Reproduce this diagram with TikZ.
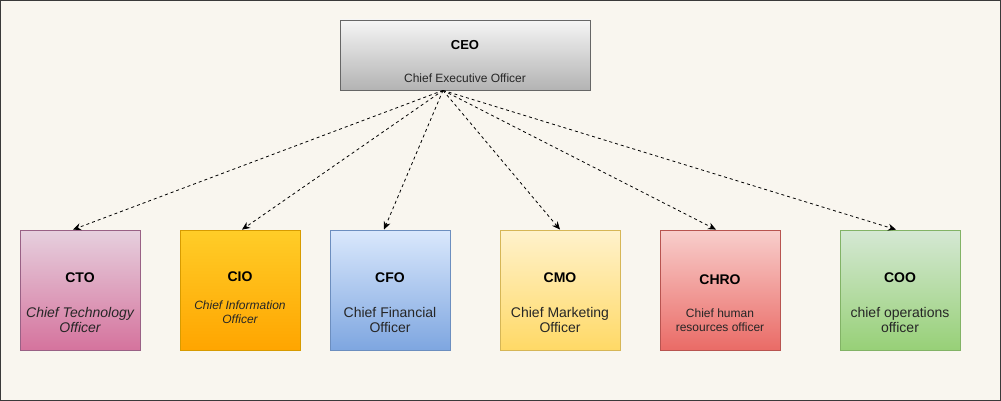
\documentclass[tikz,border=0pt]{standalone}
\usepackage{fontspec}
\setmainfont{Liberation Sans}
\usetikzlibrary{arrows.meta}

\definecolor{paper}{HTML}{F9F6EF}
\definecolor{frame}{HTML}{3A3A3A}
\definecolor{ceotop}{HTML}{F5F5F5}
\definecolor{ceobot}{HTML}{B3B3B3}
\definecolor{ceoline}{HTML}{666666}
\definecolor{ctotop}{HTML}{E6D0DE}
\definecolor{ctobot}{HTML}{D5739D}
\definecolor{ctoline}{HTML}{996185}
\definecolor{ciotop}{HTML}{FFCD28}
\definecolor{ciobot}{HTML}{FFA500}
\definecolor{cioline}{HTML}{D79B00}
\definecolor{cfotop}{HTML}{DAE8FC}
\definecolor{cfobot}{HTML}{7EA6E0}
\definecolor{cfoline}{HTML}{6C8EBF}
\definecolor{cmotop}{HTML}{FFF2CC}
\definecolor{cmobot}{HTML}{FFD966}
\definecolor{cmoline}{HTML}{D6B656}
\definecolor{chrotop}{HTML}{F8CECC}
\definecolor{chrobot}{HTML}{EA6B66}
\definecolor{chroline}{HTML}{B85450}
\definecolor{cootop}{HTML}{D5E8D4}
\definecolor{coobot}{HTML}{97D077}
\definecolor{cooline}{HTML}{82B366}

\begin{document}
\begin{tikzpicture}[x=1pt, y=-1pt,
  officer/.style = {shape=rectangle, draw, line width=0.8pt,
    minimum width=120pt, minimum height=120pt, inner sep=0pt},
  title/.style = {inner sep=0pt, font=\fontsize{14}{16}\selectfont\bfseries},
  sub/.style = {inner sep=0pt, align=center, text=black!85,
    font=\fontsize{14}{15.5}\selectfont},
  smallsub/.style = {sub, font=\fontsize{12}{13.5}\selectfont},
  link/.style = {draw, dashed, line width=0.8pt,
    -{Stealth[length=8pt, width=7pt]}}]
  \useasboundingbox (0,0) rectangle (1001,401);
  \fill[paper] (0,0) rectangle (1001,401);
  \draw[frame, line width=1.2pt] (0.6,0.6) rectangle (1000.4,400.4);

  % top box
  \node[officer, minimum width=250pt, minimum height=70pt, draw=ceoline,
    top color=ceotop, bottom color=ceobot] (ceo) at (465,55) {};
  \node[title, font=\fontsize{13}{15}\selectfont\bfseries] (ceo-t) at (465,45) {CEO};
  \node[smallsub] (ceo-s) at (465,78) {Chief Executive Officer};
  \coordinate (ceo-out) at ([xshift=-22pt]ceo.south);

  % the six officers
  \node[officer, draw=ctoline, top color=ctotop, bottom color=ctobot] (cto) at (80,290) {};
  \node[title] (cto-t) at (80,278) {CTO};
  \node[sub, font=\fontsize{14}{15.5}\selectfont\itshape] (cto-s) at (80,320) {Chief Technology\\Officer};

  \node[officer, draw=cioline, top color=ciotop, bottom color=ciobot] (cio) at (240,290) {};
  \node[title] (cio-t) at (240,277) {CIO};
  \node[smallsub, font=\fontsize{12}{13.5}\selectfont\itshape] (cio-s) at (240,312) {Chief Information\\Officer};

  \node[officer, draw=cfoline, top color=cfotop, bottom color=cfobot] (cfo) at (390,290) {};
  \node[title] (cfo-t) at (390,278) {CFO};
  \node[sub] (cfo-s) at (390,320) {Chief Financial\\Officer};

  \node[officer, draw=cmoline, top color=cmotop, bottom color=cmobot] (cmo) at (560,290) {};
  \node[title] (cmo-t) at (560,278) {CMO};
  \node[sub] (cmo-s) at (560,320) {Chief Marketing\\Officer};

  \node[officer, draw=chroline, top color=chrotop, bottom color=chrobot] (chro) at (720,290) {};
  \node[title] (chro-t) at (720,280) {CHRO};
  \node[smallsub] (chro-s) at (720,320) {Chief human\\resources officer};

  \node[officer, draw=cooline, top color=cootop, bottom color=coobot] (coo) at (900,290) {};
  \node[title] (coo-t) at (900,278) {COO};
  \node[sub] (coo-s) at (900,320) {chief operations\\officer};

  % reporting lines
  \draw[link] (ceo-out) -- ([xshift=-7pt]cto.north);
  \draw[link] (ceo-out) -- ([xshift=2pt]cio.north);
  \draw[link] (ceo-out) -- ([xshift=-6pt]cfo.north);
  \draw[link] (ceo-out) -- (cmo.north);
  \draw[link] (ceo-out) -- ([xshift=-4pt]chro.north);
  \draw[link] (ceo-out) -- ([xshift=-4pt]coo.north);
\end{tikzpicture}
\end{document}
